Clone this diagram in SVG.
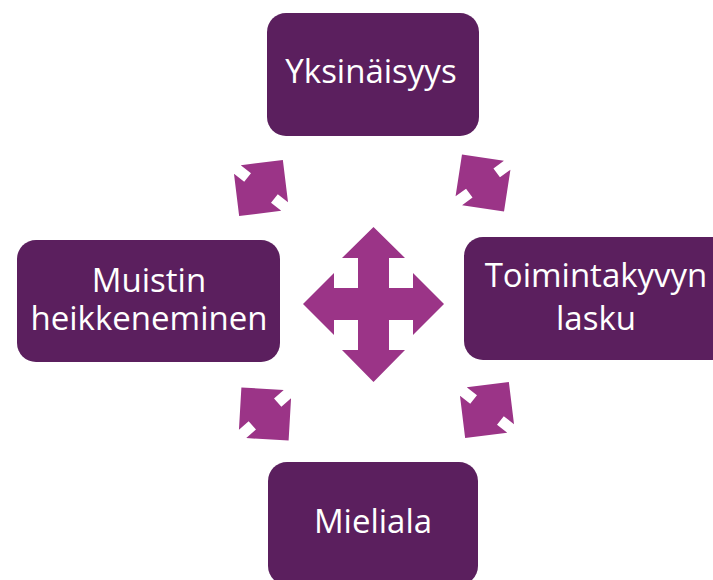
<svg xmlns="http://www.w3.org/2000/svg" width="713" height="580" viewBox="0 0 713 580">
<defs>
<style>
.box{fill:#5b1f5e;}
.lbl{fill:#ffffff;font-family:"Open Sans","Noto Sans",sans-serif;font-size:33px;text-anchor:middle;}
.arr{fill:#9b3487;}
</style>
<path id="dbl" d="M35.5,0 L5.5,30 L5.5,17 L-5.5,17 L-5.5,30 L-35.5,0 L-5.5,-30 L-5.5,-17 L5.5,-17 L5.5,-30 Z"/>
</defs>
<rect width="713" height="580" fill="#ffffff"/>
<g id="connectors">
<use href="#dbl" class="arr" transform="translate(261,188) rotate(-52)"/>
<use href="#dbl" class="arr" transform="translate(483,183) rotate(53.7)"/>
<use href="#dbl" class="arr" transform="translate(265,414) rotate(48.3)"/>
<use href="#dbl" class="arr" transform="translate(487,410) rotate(-52)"/>
<path class="arr" d="M373.5,227 L405,258 L389,258 L389,288 L413,288 L413,273 L444,304 L413,335 L413,320 L389,320 L389,350 L405,350 L373.5,382 L342,350 L358,350 L358,320 L334,320 L334,335 L303,304 L334,273 L334,288 L358,288 L358,258 L342,258 Z"/>
</g>
<g id="node-yksinaisyys">
<rect class="box" x="267" y="13" width="212" height="123" rx="19"/>
<text class="lbl" x="371" y="83">Yksinäisyys</text>
</g>
<g id="node-muistin">
<rect class="box" x="17" y="240" width="263" height="122" rx="19"/>
<text class="lbl" x="149" y="292">Muistin</text>
<text class="lbl" x="149" y="330">heikkeneminen</text>
</g>
<g id="node-toimintakyky">
<rect class="box" x="464" y="237" width="268" height="123" rx="19"/>
<text class="lbl" x="596" y="287">Toimintakyvyn</text>
<text class="lbl" x="596" y="330">lasku</text>
</g>
<g id="node-mieliala">
<rect class="box" x="268" y="462" width="210" height="123" rx="19"/>
<text class="lbl" x="373" y="533">Mieliala</text>
</g>
</svg>
